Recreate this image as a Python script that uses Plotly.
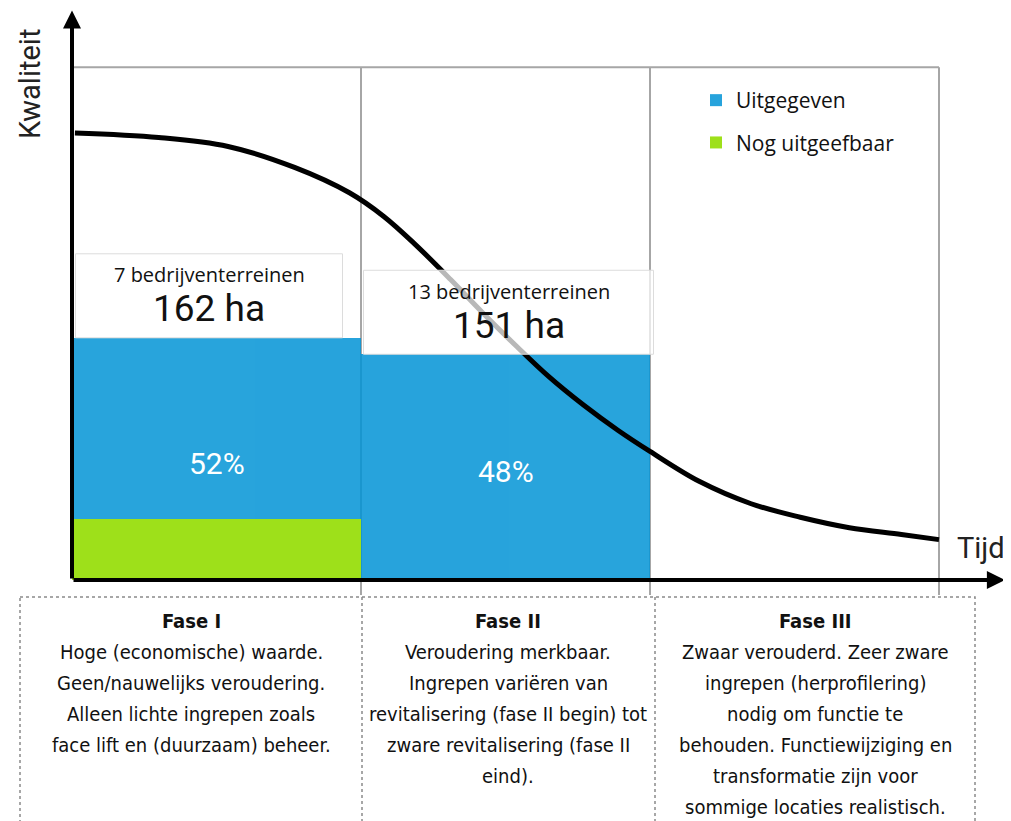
import plotly.graph_objects as go

# Fasen (midden van elke fase op de tijd-as)
fase_x = [0.5, 1.5]

# Oppervlakte in ha per fase
uitgegeven = [121, 151]
nog_uitgeefbaar = [41, 0]
aantal_terreinen = [7, 13]

curve_t = [0.01, 0.30, 0.54, 0.77, 0.96, 1.08, 1.19, 1.31, 1.42, 1.54, 1.65, 1.77, 1.89,
           2.00, 2.17, 2.35, 2.52, 2.69, 2.87, 3.00]
curve_q = [299, 296, 290, 276, 259, 243, 224, 201, 179, 156, 136, 117, 100,
           86, 66, 51, 42, 35, 30.5, 27]

# Fasebeschrijvingen
fase_titels = ["Fase I", "Fase II", "Fase III"]
fase_teksten = [
    ["Hoge (economische) waarde.", "Geen/nauwelijks veroudering.", "Alleen lichte ingrepen zoals",
     "face lift en (duurzaam) beheer."],
    ["Veroudering merkbaar.", "Ingrepen variëren van", "revitalisering (fase II begin) tot",
     "zware revitalisering (fase II", "eind)."],
    ["Zwaar verouderd. Zeer zware", "ingrepen (herprofilering)", "nodig om functie te",
     "behouden. Functiewijziging en", "transformatie zijn voor", "sommige locaties realistisch."],
]

BLUE = "#0294d6"
GREEN = "#9ee01a"
FRAME = "#a6a6a6"
SANS = "Roboto, Liberation Sans, Arial, sans-serif"
WIDE = "Open Sans, Liberation Sans, Arial, sans-serif"
NARROW = "DejaVu Sans Condensed, Liberation Sans Narrow, Arial Narrow, sans-serif"

totaal = [u + n for u, n in zip(uitgegeven, nog_uitgeefbaar)]
aandeel = [t / sum(totaal) for t in totaal]
frame_top = 343


def px(x):  # paginapixel -> paper x
    return (x - 60) / 950


def py(y):  # paginapixel -> paper y
    return (600 - y) / 590


fig = go.Figure()
fig.add_trace(go.Scatter(x=curve_t, y=curve_q, mode="lines", line=dict(color="black", width=5, shape="spline"),
                         showlegend=False, hoverinfo="skip"))
fig.add_trace(go.Bar(x=fase_x, y=uitgegeven, base=nog_uitgeefbaar, width=1, name="Uitgegeven",
                     marker_color=BLUE, marker_line_width=0, opacity=0.85, legendgroup="a"))
fig.add_trace(go.Bar(x=fase_x, y=nog_uitgeefbaar, width=1, name="Nog uitgeefbaar", marker_color=GREEN,
                     marker_line_width=0, legendgroup="b"))

# kader en fasegrenzen
fig.add_shape(type="line", x0=0, x1=3, y0=frame_top, y1=frame_top, line=dict(color=FRAME, width=2))
for xv in [1, 2, 3]:
    fig.add_shape(type="line", x0=xv, x1=xv, y0=-10, y1=frame_top, line=dict(color=FRAME, width=2), layer="below")

# labels boven de staven
box_off = [(-141, 126), (-142, 148)]
for i, xv in enumerate(fase_x):
    fig.add_shape(type="rect", xref="x", yref="y", xsizemode="pixel", ysizemode="pixel",
                  xanchor=xv, yanchor=totaal[i], x0=box_off[i][0], x1=box_off[i][1], y0=0, y1=84,
                  fillcolor="rgba(255,255,255,0.72)", line=dict(color="#dcdcdc", width=1), layer="above")
    cx = xv + (box_off[i][0] + box_off[i][1]) / 2 / 289
    fig.add_annotation(x=cx, y=totaal[i], yshift=63, text=f"{aantal_terreinen[i]} bedrijventerreinen",
                       showarrow=False, xanchor="center", yanchor="middle",
                       font=dict(family=WIDE, size=20, color="#111"))
    fig.add_annotation(x=cx, y=totaal[i], yshift=29, text=f"{totaal[i]} ha",
                       showarrow=False, xanchor="center", yanchor="middle",
                       font=dict(family=SANS, size=37, color="#111"))
    fig.add_annotation(x=xv, y=totaal[i] * 0.48, text=f"{aandeel[i] * 100:.0f}%",
                       showarrow=False, xanchor="center", yanchor="middle",
                       font=dict(family=SANS, size=30, color="white"))

# assen met pijlen
fig.add_annotation(x=3.228, y=0, ax=0, ay=0, axref="x", ayref="y", text="", showarrow=True,
                   arrowhead=2, arrowwidth=4, arrowsize=0.9, arrowcolor="black", standoff=0)
fig.add_annotation(x=0, y=381, ax=0, ay=0, axref="x", ayref="y", text="", showarrow=True,
                   arrowhead=2, arrowwidth=4, arrowsize=0.9, arrowcolor="black", standoff=0)

fig.add_annotation(xref="paper", yref="paper", x=px(30), y=py(84), text="Kwaliteit", textangle=-90,
                   showarrow=False, xanchor="center", yanchor="middle",
                   font=dict(family="Roboto, sans-serif", size=29, color="#222"))
fig.add_annotation(xref="paper", yref="paper", x=px(981), y=py(548), text="Tijd",
                   showarrow=False, xanchor="center", yanchor="middle",
                   font=dict(family="Roboto, sans-serif", size=29, color="#222"))

# onderste tekstvakken
dash = dict(color="#8a8a8a", width=1.5, dash="dot")
fig.add_shape(type="rect", xref="paper", yref="paper", x0=px(20), x1=px(975), y0=py(597), y1=py(835), line=dash)
for xd in [362, 655]:
    fig.add_shape(type="line", xref="paper", yref="paper", x0=px(xd), x1=px(xd), y0=py(597), y1=py(835), line=dash)
col_x = [191, 508, 815]
for j, titel in enumerate(fase_titels):
    regels = [f"<b>{titel}</b>"] + fase_teksten[j]
    for k, regel in enumerate(regels):
        fig.add_annotation(xref="paper", yref="paper", x=px(col_x[j]), y=py(621 + 31 * k), text=regel,
                           showarrow=False, xanchor="center", yanchor="middle",
                           font=dict(family=NARROW, size=20, color="#111"))

fig.update_layout(
    width=1003, height=813,
    margin=dict(l=52, r=1, t=2, b=221),
    paper_bgcolor="white", plot_bgcolor="white",
    barmode="overlay", bargap=0,
    xaxis=dict(range=[-12 / 289, 938 / 289], visible=False),
    yaxis=dict(range=[-13.38, 381.27], visible=False),
    legend=dict(x=px(696), y=py(80), xanchor="left", yanchor="top", traceorder="grouped",
                tracegroupgap=12, font=dict(family=WIDE, size=21, color="#111"), bgcolor="rgba(0,0,0,0)"),
)

fig.write_html("out.html")
